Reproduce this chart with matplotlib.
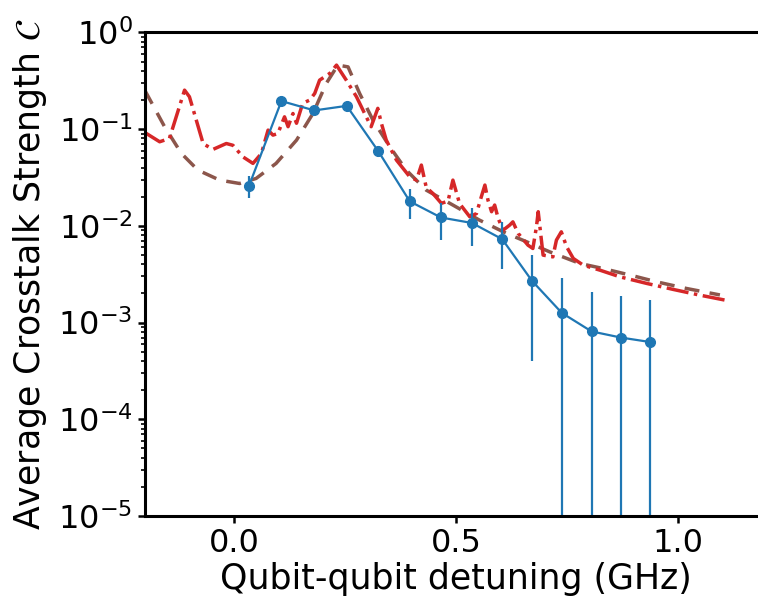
import matplotlib
matplotlib.use("Agg")
import matplotlib.pyplot as plt
import numpy as np

# Measured crosstalk (mean and standard deviation per detuning bin)
det_meas = [0.034, 0.107, 0.181, 0.254, 0.325, 0.396, 0.466, 0.536, 0.604,
            0.671, 0.738, 0.805, 0.871, 0.936]
c_meas = [0.0259, 0.195, 0.156, 0.174, 0.0592, 0.0179, 0.0122, 0.0107,
          0.00728, 0.0027, 0.00126, 0.00081, 0.00070, 0.00063]
c_err = [0.0066, 0.004, 0.004, 0.004, 0.0075, 0.006, 0.005, 0.0045,
         0.0037, 0.0023, 0.0016, 0.00127, 0.00117, 0.0011]

# Full simulation including spurious resonances
det_sim = [-0.2, -0.167, -0.145, -0.111, -0.100, -0.069, -0.047, -0.017,
           -0.002, 0.020, 0.043, 0.062, 0.077, 0.088, 0.099, 0.114, 0.122,
           0.133, 0.141, 0.155, 0.171, 0.182, 0.193, 0.216, 0.231, 0.253,
           0.276, 0.298, 0.309, 0.324, 0.332, 0.343, 0.366, 0.396, 0.411,
           0.422, 0.433, 0.448, 0.467, 0.482, 0.493, 0.508, 0.531, 0.546,
           0.557, 0.565, 0.572, 0.580, 0.587, 0.595, 0.606, 0.621, 0.628,
           0.640, 0.662, 0.673, 0.681, 0.685, 0.696, 0.718, 0.726, 0.737,
           0.749, 0.764, 0.786, 0.824, 0.869, 0.929, 0.989, 1.049, 1.113]
c_sim = [0.092, 0.074, 0.080, 0.253, 0.216, 0.0706, 0.0617, 0.071,
         0.068, 0.0518, 0.0442, 0.056, 0.0977, 0.0867, 0.090, 0.134, 0.106,
         0.145, 0.115, 0.185, 0.200, 0.234, 0.321, 0.377, 0.459, 0.321,
         0.216, 0.134, 0.106, 0.164, 0.115, 0.0769, 0.0478, 0.0321, 0.0297,
         0.0425, 0.0250, 0.0216, 0.0171, 0.0180, 0.0297, 0.0170, 0.0124, 0.0134,
         0.0200, 0.0264, 0.0184, 0.0140, 0.0164, 0.0119, 0.00902, 0.0102, 0.0110,
         0.00834, 0.00631, 0.00583, 0.00977, 0.0140, 0.00498, 0.00478, 0.00712, 0.00867,
         0.00607, 0.00460, 0.00393, 0.00348, 0.00297, 0.00254, 0.00220, 0.00192, 0.00168]

# Simplified model without resonances
det_model = [-0.2, -0.156, -0.118, -0.081, -0.032, 0.013, 0.050, 0.095,
             0.141, 0.178, 0.208, 0.234, 0.257, 0.283, 0.313, 0.351, 0.388,
             0.433, 0.493, 0.553, 0.614, 0.659, 0.711, 0.779, 0.831, 0.899,
             0.951, 1.019, 1.094]
c_model = [0.250, 0.106, 0.056, 0.0377, 0.0297, 0.0274, 0.0309, 0.0442,
           0.0769, 0.145, 0.297, 0.459, 0.440, 0.234, 0.124, 0.0656, 0.0377,
           0.0234, 0.0164, 0.01145, 0.00834, 0.00684, 0.00538, 0.00408,
           0.00362, 0.00304, 0.00264, 0.00225, 0.00193]

blue = "#1f77b4"
red = "#d62728"
brown = "#8c564b"

fig = plt.figure(figsize=(7.58, 6.0), dpi=100)
ax = fig.add_axes([0.1913, 0.14, 0.8206, 0.806])

ax.plot(det_model, c_model, color=brown, lw=2.5, dashes=(4.3, 3.0))
ax.plot(det_sim, c_sim, color=red, ls="-.", lw=2.5)
ax.errorbar(det_meas, c_meas, yerr=c_err, color=blue, ecolor=blue,
            marker="o", ms=7, lw=1.6, elinewidth=1.6, capsize=0)

ax.set_yscale("log")
ax.set_ylim(1e-5, 1)
ax.set_xlim(-0.2, 1.2)
ax.set_xticks([0.0, 0.5, 1.0])

for s in ax.spines.values():
    s.set_linewidth(2.2)
ax.spines["right"].set_visible(False)

ax.tick_params(axis="both", which="major", labelsize=23, direction="out",
               length=5, width=1.8, pad=4)
ax.tick_params(axis="y", which="minor", direction="out", length=3, width=1.2)

ax.set_xlabel("Qubit-qubit detuning (GHz)", fontsize=25, labelpad=2)
ax.set_ylabel(r"Average Crosstalk Strength $\mathcal{C}$", fontsize=25,
              labelpad=6)

fig.savefig("out.png", dpi=100)
